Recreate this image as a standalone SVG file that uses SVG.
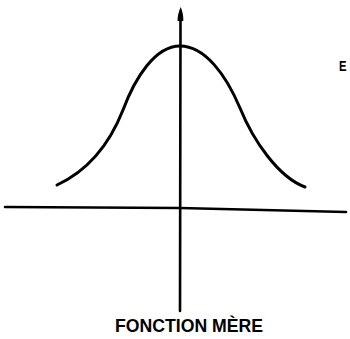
<svg xmlns="http://www.w3.org/2000/svg" width="350" height="339" viewBox="0 0 350 339">
<style>
.ax{fill:none;stroke:#000;stroke-width:2.6;stroke-linecap:round}
.cv{fill:none;stroke:#000;stroke-width:3;stroke-linecap:round}
.lb{font-family:"Liberation Sans",Arial,sans-serif;font-weight:bold;fill:#000}
</style>
<rect width="350" height="339" fill="#fff"/>
<g id="axes">
<polyline class="ax" points="5,207 180,208 346,212"/>
<line class="ax" x1="180.5" y1="18" x2="180" y2="311"/>
<path id="arrowhead" d="M180.7,7 C182.5,11 183.5,16 183.3,21 L177.5,21 C177.5,16 178.8,11 180.7,7 Z" fill="#000"/>
</g>
<g id="curve">
<path class="cv" d="M57,185 C85,172 108,148 123,110 C135,78 155,46 180,46 C205,46 226,75 240,108 C253,140 278,177 305,187"/>
</g>
<g id="labels">
<text class="lb" x="339" y="70.7" font-size="14" textLength="7.5" lengthAdjust="spacingAndGlyphs">E</text>
<text class="lb" x="115" y="331.7" font-size="19" textLength="148" lengthAdjust="spacingAndGlyphs">FONCTION MÈRE</text>
</g>
</svg>
